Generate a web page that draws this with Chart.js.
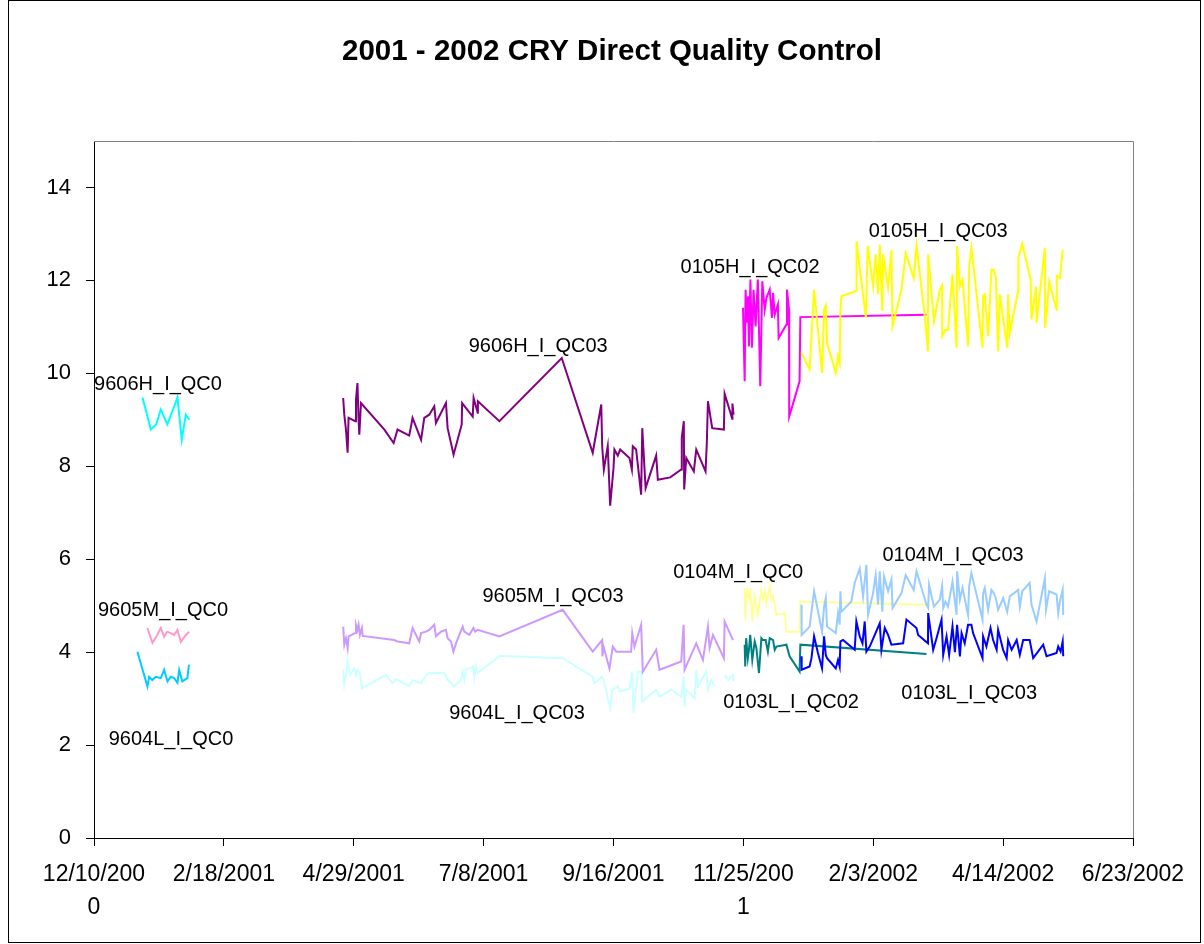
<!DOCTYPE html>
<html>
<head>
<meta charset="utf-8">
<title>2001 - 2002 CRY Direct Quality Control</title>
<script src="https://cdn.jsdelivr.net/npm/chart.js@4.4.1/dist/chart.umd.min.js"></script>
<style>
  html, body { margin: 0; padding: 0; background: #fff; }
  canvas { display: block; }
</style>
</head>
<body>
<canvas id="qcChart" width="1204" height="944"></canvas>
<script>
// x values are days since 12/10/2000, y values are the QC readings
const xTickLabels = ["12/10/2000", "2/18/2001", "4/29/2001", "7/8/2001", "9/16/2001",
  "11/25/2001", "2/3/2002", "4/14/2002", "6/23/2002"];

// 9606H_I_QC0
const h9606Qc0Days = [26.1, 28, 30.6, 33.5, 36, 39.5, 43, 45, 47.3, 49.5, 51.3];
const h9606Qc0Values = [9.48, 9.2, 8.79, 8.9, 9.22, 8.9, 9.26, 9.48, 8.57, 9.11, 9.0];

// 9605M_I_QC0
const m9605Qc0Days = [28.8, 31.5, 34.1, 36, 37.8, 39.5, 43.2, 45, 46.8, 49.5, 51.3];
const m9605Qc0Values = [4.52, 4.2, 4.37, 4.52, 4.33, 4.44, 4.37, 4.48, 4.22, 4.37, 4.44];

// 9604L_I_QC0
const l9604Qc0Days = [23.4, 28.8, 29.7, 31.4, 33.3, 36, 37.8, 39.6, 41.4, 43.2, 45, 45.9, 47.6, 50.3, 51.2];
const l9604Qc0Values = [4.01, 3.26, 3.47, 3.40, 3.47, 3.44, 3.62, 3.37, 3.47, 3.44, 3.34, 3.62, 3.37, 3.44, 3.73];

// 9606H_I_QC03
const h9606Qc03Days = [134.3, 134.9, 135.8, 136.7, 137.2, 140.8, 141.2, 142, 142.6, 143, 143.9, 156.5, 161.5,
  163.6, 169.9, 171.7, 176.3, 178, 180.7, 183.4, 184.3, 189.7, 190.6, 193.8, 198.2, 198.4, 204.1, 204.6,
  206.8, 206.9, 218.5, 252.1, 268.8, 273.4, 273.9, 274.8, 276.9, 278.2, 280, 280.5, 282.3, 283.6, 288.6,
  289.9, 290.4, 292.2, 294.9, 295.5, 297.3, 303, 303.9, 310.6, 316.5, 316.8, 317.9, 318.1, 319.2, 323.3,
  324.6, 329.6, 330.3, 330.9, 333.2, 339.5, 339.9, 344, 344.1, 344.7];
const h9606Qc03Values = [9.47, 9.11, 8.79, 8.29, 9.04, 8.97, 9.43, 9.79, 9.0, 8.68, 9.36, 8.79, 8.5,
  8.79, 8.66, 9.04, 8.57, 9.04, 9.11, 9.29, 8.93, 9.36, 8.82, 8.25, 8.9, 9.36, 9.07, 9.47,
  9.15, 9.4, 8.97, 10.33, 8.29, 9.33, 8.43, 7.93, 8.43, 7.15, 7.96, 8.36, 8.23, 8.36, 8.18,
  7.93, 8.43, 8.36, 7.39, 8.82, 7.53, 8.23, 7.71, 7.76, 7.93, 8.61, 8.97, 7.5, 8.18, 7.89,
  8.36, 7.89, 8.5, 9.4, 8.82, 8.79, 9.56, 9.02, 9.35, 9.11];

// 9605M_I_QC03
const m9605Qc03Days = [134.3, 134.9, 135.8, 136.7, 137.2, 140.8, 141.2, 142, 142.6, 143.3, 144.4, 144.8,
  161.8, 163.6, 169.9, 171.7, 175.3, 176.3, 178.9, 180.7, 183.4, 184.3, 187, 189.7, 190.6, 192.4, 193.7,
  195.1, 198.7, 199.6, 202.3, 204.5, 205.5, 206.8, 218.5, 252.6, 268.8, 273.9, 274, 274.6, 277.8, 279.6,
  281.5, 289.5, 290.1, 291.3, 294.9, 295.8, 303, 304.8, 316.5, 317.8, 318.3, 324.6, 328.2, 330.9, 331.8,
  333.6, 339.5, 339.9, 344.4];
const m9605Qc03Values = [4.55, 4.16, 4.3, 4.09, 4.34, 4.41, 4.59, 4.48, 4.59, 4.37, 4.52, 4.35,
  4.26, 4.23, 4.19, 4.52, 4.23, 4.41, 4.44, 4.48, 4.59, 4.34, 4.44, 4.48, 4.3, 4.23, 4.01,
  4.19, 4.55, 4.44, 4.37, 4.52, 4.44, 4.48, 4.34, 4.91, 4.01, 4.26, 3.91, 4.12, 3.65, 4.12,
  4.01, 4.01, 4.41, 4.12, 4.59, 3.58, 4.05, 3.62, 3.8, 4.59, 3.62, 4.19, 3.83, 4.55, 4.09,
  4.37, 3.87, 4.66, 4.26];

// 9604L_I_QC03
const l9604Qc03Days = [134.3, 134.9, 136.1, 136.7, 138, 140.3, 141.2, 142, 143.3, 144.4, 157.4, 160.9,
  162.8, 169.9, 171.7, 176.3, 179, 180.7, 184.3, 188.8, 190.6, 192.4, 193.7, 195.1, 197.8, 198.7, 199.6,
  200.5, 204.5, 205, 205.9, 206.8, 218.5, 252.6, 268.8, 269.7, 273.9, 275.1, 278.2, 279.3, 282.3, 283.6,
  288.6, 290.1, 290.8, 293.1, 294.9, 295.5, 297.6, 303, 304.8, 311.1, 316.5, 317.8, 318.3, 319.2, 323.7,
  324.6, 325.5, 330, 330.9, 332.7, 334.5, 336, 339.9, 341.7, 344.4, 344.7];
const l9604Qc03Values = [3.62, 3.3, 3.55, 3.8, 3.51, 3.65, 3.51, 3.62, 3.55, 3.22, 3.51, 3.33,
  3.42, 3.27, 3.40, 3.33, 3.51, 3.55, 3.55, 3.55, 3.4, 3.33, 3.26, 3.3, 3.4, 3.58, 3.4,
  3.62, 3.69, 3.47, 3.69, 3.55, 3.92, 3.87, 3.47, 3.33, 3.47, 3.33, 2.79, 3.19, 3.26, 3.15,
  3.22, 3.58, 2.69, 3.58, 3.58, 2.94, 3.01, 3.19, 3.04, 3.19, 3.04, 3.47, 2.83, 3.19, 3.01,
  3.62, 3.26, 3.58, 3.19, 3.40, 3.26, null, 3.51, 3.4, 3.51, 3.37];

// 0105H_I_QC02
const h0105Qc02Days = [349.8, 350.7, 351.2, 351.9, 352.5, 353, 353.8, 354.6, 355.5, 356.6, 357.8, 359.1,
  360.2, 361.5, 362.4, 364.2, 365.4, 366, 366.9, 368.6, 369, 373.2, 373.5, 374.6, 374.7, 380.3, 380.7, 448.7];
const h0105Qc02Values = [11.41, 9.83, 11.8, 11.09, 11.66, 10.58, 12.02, 10.55, 11.8, 11.01, 12.02, 9.72,
  11.98, 11.37, 11.62, 11.8, 11.19, 11.73, 11.26, 11.48, 10.76, 11.05, 11.8, 11.37, 9.07, 9.83, 11.21, 11.26];

// 0105H_I_QC03
const h0105Qc03Days = [381.3, 385.7, 388.1, 392.4, 393.5, 394.4, 395.1, 399.8, 401, 401.9, 402.3, 402.8,
  410.9, 411, 416, 417, 419.9, 421.3, 422.6, 423.5, 424.9, 425.3, 428, 429.8, 430.4, 435.2, 437.5, 441.8,
  443.3, 447.8, 449.5, 449.6, 452.7, 455.9, 457.1, 457.2, 458.9, 460.3, 462.7, 464.9, 465.2, 466.7, 468.1,
  471.1, 471.7, 472.9, 478.9, 479.2, 480.1, 481.9, 483.7, 485, 486.1, 487.3, 488.2, 492.2, 492.7, 493.6,
  498.1, 498.2, 500.3, 504.8, 505.3, 507.7, 508, 512.5, 512.6, 513.8, 514.8, 518.8, 518.9, 520.6, 522.1];
const h0105Qc03Values = [10.44, 10.08, 11.8, 10.01, 11.37, 11.46, 10.65, 10.01, 10.37, 10.22, 11.34, 11.66,
  11.77, 12.84, 11.2, 12.74, 11.87, 12.56, 11.7, 12.77, 11.34, 12.56, 11.84, 12.66, 11.01, 11.8, 12.59, 12.05,
  12.75, 11.23, 10.47, 12.56, 11.12, 11.8, 11.89, 10.8, 10.94, 10.94, 12.13, 10.55, 12.74, 11.87, 12.02,
  10.58, 12.3, 12.7, 10.55, 11.66, 11.7, 10.8, 12.23, 12.23, 12.05, 10.47, 11.7, 10.55, 11.7, 10.87,
  11.77, 12.49, 12.79, 12.02, 11.16, 11.87, 11.09, 12.7, 10.98, 11.44, 11.98, 11.37, 12.1, 12.05, 12.66];

// 0104M_I_QC0
const m0104Qc0Days = [350.7, 351, 351.9, 353, 353.7, 354.8, 356.1, 357.8, 359.7, 360.5, 361.5, 362.4,
  364.2, 365.1, 366, 367.8, 372.3, 373.2, 380.3, 380.7, 448.7];
const m0104Qc0Values = [5.38, 4.7, 5.31, 5.16, 5.38, 4.66, 5.2, 4.8, 5.31, 5.13, 5.31, 5.05,
  5.42, 5.13, 5.2, 4.8, 4.84, 4.44, 4.44, 5.09, 5.02];

// 0103L_I_QC02
const l0103Qc02Days = [350.7, 351, 351.5, 352.4, 353, 353.7, 354.8, 356.1, 357, 358.4, 359.7, 360.5,
  362, 363.2, 364.2, 366, 366.9, 367.8, 373.2, 374.9, 380.3, 380.7, 448.7];
const l0103Qc02Values = [4.16, 3.69, 4.3, 3.87, 4.05, 4.37, 3.83, 4.23, 4.09, 3.55, 4.3, 4.26,
  4.26, 4.01, 4.3, 4.26, 4.05, 4.12, 4.16, 3.91, 3.58, 4.16, 3.96];

// 0104M_I_QC03
const m0104Qc03Days = [381.3, 381.4, 385.7, 388.1, 392.4, 393.5, 394.4, 395.1, 399.8, 401, 401.9, 402.3,
  402.8, 408.2, 410, 412.7, 414.5, 416.3, 417.2, 419.9, 421.3, 422.6, 423.5, 424.9, 425.8, 428, 429.8,
  430.4, 435.2, 437.5, 441.8, 443.3, 448.7, 449.6, 450.1, 452.7, 455.9, 457.1, 457.7, 458.9, 460.3, 462.7,
  464.9, 465.2, 466.7, 468.1, 471.1, 471.7, 472.9, 478.9, 479.2, 480.1, 481.9, 483.7, 485, 486.1, 487.3,
  490, 492.2, 493.6, 498.1, 499, 500.3, 504.3, 505.3, 508, 512.5, 513.1, 514.8, 518.8, 519.7, 520.6,
  522.1, 522.4];
const m0104Qc03Values = [5.02, 4.37, 4.55, 5.31, 4.44, 4.98, 5.16, 4.55, 4.41, 4.84, 4.59, 5.31,
  4.87, 5.09, 5.49, 5.8, 5.2, 5.88, 4.8, 5.27, 5.66, 5.02, 5.74, 4.87, 5.63, 5.31, 5.56,
  4.95, 5.27, 5.66, 5.34, 5.74, 5.02, 4.95, 5.45, 4.98, 5.13, 5.42, 4.95, 5.09, 4.98, 5.52,
  4.8, 5.74, 5.13, 5.38, 4.8, 5.42, 5.7, 4.7, 5.27, 5.38, 4.91, 5.34, 5.27, 5.16, 4.91,
  5.16, 4.87, 5.2, 5.34, 4.98, 5.31, 5.49, 5.02, 4.66, 5.59, 4.91, 5.31, 5.24, 4.84, 5.09,
  5.34, 4.8];

// 0103L_I_QC03
const l0103Qc03Days = [381.3, 381.4, 385.7, 386.7, 388.1, 390.2, 392.4, 393.5, 394.4, 395.1, 399.8, 401,
  401.9, 402.3, 403.7, 410, 410.9, 412.7, 414.2, 415.4, 416.3, 418.1, 423.5, 424.4, 426.2, 428, 429.8,
  436.1, 437.9, 443.3, 444.2, 449.5, 449.6, 452.3, 454.1, 456.8, 457.7, 459.5, 460.9, 462.7, 464, 465.2,
  466.7, 467.6, 469.3, 471.1, 472.9, 473.8, 478.9, 479.2, 481, 483.2, 484.6, 486.5, 487.3, 490, 491.9,
  492.7, 494.6, 497.3, 499, 500.8, 504.3, 506.2, 511.6, 513.4, 518.8, 519.7, 521, 522.1, 522.4];
const l0103Qc03Values = [3.91, 3.62, 3.69, 3.87, 4.34, 3.98, 3.65, 4.34, 3.94, 3.87, 3.65, 3.83,
  3.69, 4.23, 4.26, 4.05, 4.66, 4.34, 4.19, 4.66, 4.01, 4.12, 4.62, 4.05, 4.52, 4.37, 4.16,
  4.19, 4.7, 4.52, 4.37, 4.19, 4.84, 4.05, 4.3, 4.7, 3.94, 4.34, 3.94, 4.55, 4.0, 4.59,
  3.91, 4.41, 4.19, 4.59, 4.59, 4.41, 3.87, 4.34, 4.12, 4.52, 4.26, 4.05, 4.48, 4.05, 3.87,
  4.26, 4.05, 4.26, 3.94, 4.26, 4.26, 3.87, 4.16, 3.91, 3.98, 4.12, 4.01, 4.23, 3.91];

// series names and colours, in drawing priority (first one ends up on top)
const seriesNames = ["0103L_I_QC03", "0104M_I_QC03", "0103L_I_QC02", "0104M_I_QC0", "0105H_I_QC03",
  "0105H_I_QC02", "9606H_I_QC03", "9605M_I_QC03", "9604L_I_QC03", "9606H_I_QC0", "9605M_I_QC0", "9604L_I_QC0"];
const seriesColors = ["#0000FF", "#99CCFF", "#008080", "#FFFF99", "#FFFF00",
  "#FF00FF", "#800080", "#CC99FF", "#CCFFFF", "#00FFFF", "#FF99CC", "#00CCFF"];
const seriesDays = [l0103Qc03Days, m0104Qc03Days, l0103Qc02Days, m0104Qc0Days, h0105Qc03Days,
  h0105Qc02Days, h9606Qc03Days, m9605Qc03Days, l9604Qc03Days, h9606Qc0Days, m9605Qc0Days, l9604Qc0Days];
const seriesValues = [l0103Qc03Values, m0104Qc03Values, l0103Qc02Values, m0104Qc0Values, h0105Qc03Values,
  h0105Qc02Values, h9606Qc03Values, m9605Qc03Values, l9604Qc03Values, h9606Qc0Values, m9605Qc0Values, l9604Qc0Values];

// data labels placed next to each series (day, value of the label centre)
const labelTexts = ["9606H_I_QC0", "9606H_I_QC03", "0105H_I_QC02", "0105H_I_QC03", "9605M_I_QC0", "9604L_I_QC0",
  "9605M_I_QC03", "9604L_I_QC03", "0104M_I_QC0", "0104M_I_QC03", "0103L_I_QC02", "0103L_I_QC03"];
const labelDays = [34.5, 239.4, 353.6, 455, 37.2, 41.5, 247.4, 228, 347.2, 463, 375.7, 471.7];
const labelValues = [9.76, 10.57, 12.28, 13.05, 4.89, 2.13, 5.19, 2.67, 5.71, 6.07, 2.91, 3.12];

const chartTitle = "2001 - 2002 CRY Direct Quality Control";
const FONT = '"Liberation Sans", Arial, sans-serif';

const datasets = seriesNames.map((name, i) => ({
  label: name,
  data: seriesDays[i].map((d, j) => ({ x: d, y: seriesValues[i][j] })),
  borderColor: seriesColors[i],
  backgroundColor: seriesColors[i],
  borderWidth: 2,
  pointRadius: 0,
  tension: 0,
  spanGaps: false,
}));

// frame, title, plot border and series labels
const decorations = {
  id: "decorations",
  beforeDraw(chart) {
    const c = chart.ctx;
    c.save();
    c.fillStyle = "#fff";
    c.fillRect(0, 0, chart.width, chart.height);
    c.restore();
  },
  afterDraw(chart) {
    const c = chart.ctx;
    const area = chart.chartArea;
    const xs = chart.scales.x;
    const ys = chart.scales.y;
    c.save();
    // plot area border (top and right)
    c.strokeStyle = "#808080";
    c.lineWidth = 1;
    c.beginPath();
    c.moveTo(area.left, Math.round(area.top) + 0.5);
    c.lineTo(Math.round(area.right) + 0.5, Math.round(area.top) + 0.5);
    c.lineTo(Math.round(area.right) + 0.5, area.bottom);
    c.stroke();
    // chart frame
    c.strokeStyle = "#000";
    c.strokeRect(8.5, 0.5, 1192, 942);
    // title
    c.fillStyle = "#000";
    c.font = "bold 29.5px " + FONT;
    c.textAlign = "center";
    c.textBaseline = "middle";
    c.fillText(chartTitle, 612, 52);
    // series labels
    c.font = "20px " + FONT;
    labelTexts.forEach((t, i) => {
      c.fillText(t, xs.getPixelForValue(labelDays[i]), ys.getPixelForValue(labelValues[i]));
    });
    c.restore();
  },
};

const ctx = document.getElementById("qcChart").getContext("2d");
const chart = new Chart(ctx, {
  type: "line",
  data: { datasets: datasets },
  plugins: [decorations],
  options: {
    responsive: false,
    animation: false,
    events: [],
    layout: { padding: { top: 141, left: 10, right: 71, bottom: 0 } },
    plugins: {
      legend: { display: false },
      title: { display: false },
      tooltip: { enabled: false },
    },
    scales: {
      x: {
        type: "linear",
        min: 0,
        max: 560,
        afterFit: (s) => { s.height = 106; },
        border: { color: "#000", width: 1 },
        grid: { drawOnChartArea: false, tickLength: 8, color: "#000" },
        ticks: {
          stepSize: 70,
          maxRotation: 0,
          autoSkip: false,
          padding: 12,
          color: "#000",
          font: { family: FONT, size: 23, lineHeight: "33px" },
          callback: (v) => {
            const s = xTickLabels[Math.round(v / 70)] || "";
            return s.length > 9 ? [s.slice(0, 9), s.slice(9)] : s;
          },
        },
      },
      y: {
        min: 0,
        max: 15,
        afterFit: (s) => { s.width = 84; },
        border: { color: "#000", width: 1 },
        grid: { drawOnChartArea: false, tickLength: 8, color: "#000" },
        ticks: {
          stepSize: 2,
          includeBounds: false,
          padding: 15,
          color: "#000",
          font: { family: FONT, size: 22 },
        },
      },
    },
  },
});
</script>
</body>
</html>
